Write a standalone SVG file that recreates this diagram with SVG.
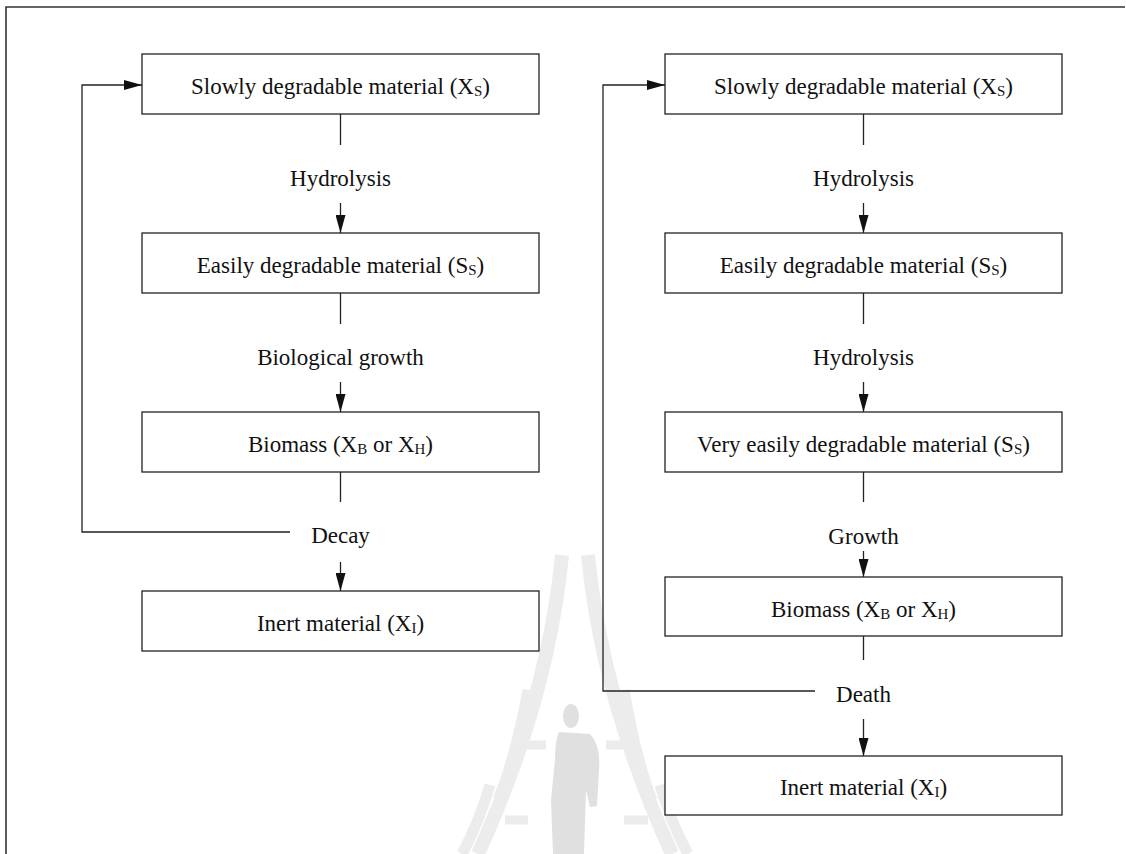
<svg xmlns="http://www.w3.org/2000/svg" width="1126" height="854" viewBox="0 0 1126 854">
<style>
.box{fill:#fff;stroke:#222;stroke-width:1.3}
.ln{fill:none;stroke:#222;stroke-width:1.3}
.t{font-family:"Liberation Serif","Times New Roman",serif;font-size:23px;fill:#111;text-anchor:middle}
.s{font-size:15px}
.wm{fill:none;stroke:#ececec;stroke-linecap:butt}
</style>
<defs>
<marker id="arr" markerUnits="userSpaceOnUse" viewBox="0 0 18 10" refX="18" refY="5" markerWidth="18" markerHeight="10" orient="auto">
<path d="M0,0 L18,5 L0,10 z" fill="#111"/>
</marker>
</defs>
<rect width="1126" height="854" fill="#fff"/>
<!-- frame -->
<path d="M6,854 V7 H1125" fill="none" stroke="#333" stroke-width="1.6"/>
<!-- watermark -->
<g id="watermark">
<path class="wm" d="M562,555 Q548,700 478,854" stroke-width="14"/>
<path class="wm" d="M528,690 Q515,760 498,800" stroke-width="11"/>
<path class="wm" d="M490,785 Q478,825 462,854" stroke-width="11"/>
<path class="wm" d="M588,555 Q602,700 672,854" stroke-width="14"/>
<path class="wm" d="M624,690 Q636,760 652,800" stroke-width="11"/>
<path class="wm" d="M660,785 Q672,825 688,854" stroke-width="11"/>
<path class="wm" d="M522,745 H546 M505,820 H528 M630,745 H606 M648,820 H624" stroke-width="9"/>
<ellipse cx="571" cy="716" rx="8" ry="12" fill="#e0e0e0"/>
<path d="M559,732 L590,734 Q601,745 599,770 L597,806 L590,807 L586,790 L584,854 L553,854 L551,800 L555,760 Q555,740 559,732 z" fill="#e0e0e0"/>
</g>
<!-- left column nodes -->
<g id="L1"><rect class="box" x="142" y="54" width="397" height="60"/><text class="t" x="340.5" y="94">Slowly degradable material (X<tspan class="s" dy="2">S</tspan><tspan dy="-2">)</tspan></text></g>
<g id="L2"><rect class="box" x="142" y="233" width="397" height="60"/><text class="t" x="340.5" y="273">Easily degradable material (S<tspan class="s" dy="2">S</tspan><tspan dy="-2">)</tspan></text></g>
<g id="L3"><rect class="box" x="142" y="412" width="397" height="60"/><text class="t" x="340.5" y="452">Biomass (X<tspan class="s" dy="2">B</tspan><tspan dy="-2"> or X</tspan><tspan class="s" dy="2">H</tspan><tspan dy="-2">)</tspan></text></g>
<g id="L4"><rect class="box" x="142" y="591" width="397" height="60"/><text class="t" x="340.5" y="631">Inert material (X<tspan class="s" dy="2">I</tspan><tspan dy="-2">)</tspan></text></g>
<!-- right column nodes -->
<g id="R1"><rect class="box" x="665" y="54" width="397" height="60"/><text class="t" x="863.5" y="94">Slowly degradable material (X<tspan class="s" dy="2">S</tspan><tspan dy="-2">)</tspan></text></g>
<g id="R2"><rect class="box" x="665" y="233" width="397" height="60"/><text class="t" x="863.5" y="273">Easily degradable material (S<tspan class="s" dy="2">S</tspan><tspan dy="-2">)</tspan></text></g>
<g id="R3"><rect class="box" x="665" y="412" width="397" height="60"/><text class="t" x="863.5" y="452">Very easily degradable material (S<tspan class="s" dy="2">S</tspan><tspan dy="-2">)</tspan></text></g>
<g id="R4"><rect class="box" x="665" y="577" width="397" height="59"/><text class="t" x="863.5" y="617">Biomass (X<tspan class="s" dy="2">B</tspan><tspan dy="-2"> or X</tspan><tspan class="s" dy="2">H</tspan><tspan dy="-2">)</tspan></text></g>
<g id="R5"><rect class="box" x="665" y="756" width="397" height="59"/><text class="t" x="863.5" y="795">Inert material (X<tspan class="s" dy="2">I</tspan><tspan dy="-2">)</tspan></text></g>
<!-- connectors -->
<g id="connectors">
<path class="ln" d="M340.5,114 V145 M340.5,293 V324 M340.5,472 V502"/>
<path class="ln" d="M340.5,203 V233" marker-end="url(#arr)"/>
<path class="ln" d="M340.5,382 V412" marker-end="url(#arr)"/>
<path class="ln" d="M340.5,562 V591" marker-end="url(#arr)"/>
<path class="ln" d="M290,532 H82 V85 H142" marker-end="url(#arr)"/>
<path class="ln" d="M863.5,114 V145 M863.5,293 V324 M863.5,472 V502 M863.5,636 V660"/>
<path class="ln" d="M863.5,203 V233" marker-end="url(#arr)"/>
<path class="ln" d="M863.5,382 V412" marker-end="url(#arr)"/>
<path class="ln" d="M863.5,551 V577" marker-end="url(#arr)"/>
<path class="ln" d="M863.5,719 V756" marker-end="url(#arr)"/>
<path class="ln" d="M815,691 H603 V85 H665" marker-end="url(#arr)"/>
</g>
<!-- connector labels -->
<g id="labels">
<text class="t" x="340.5" y="186">Hydrolysis</text>
<text class="t" x="340.5" y="365">Biological growth</text>
<text class="t" x="340.5" y="543">Decay</text>
<text class="t" x="863.5" y="186">Hydrolysis</text>
<text class="t" x="863.5" y="365">Hydrolysis</text>
<text class="t" x="863.5" y="544">Growth</text>
<text class="t" x="863.5" y="702">Death</text>
</g>
</svg>
